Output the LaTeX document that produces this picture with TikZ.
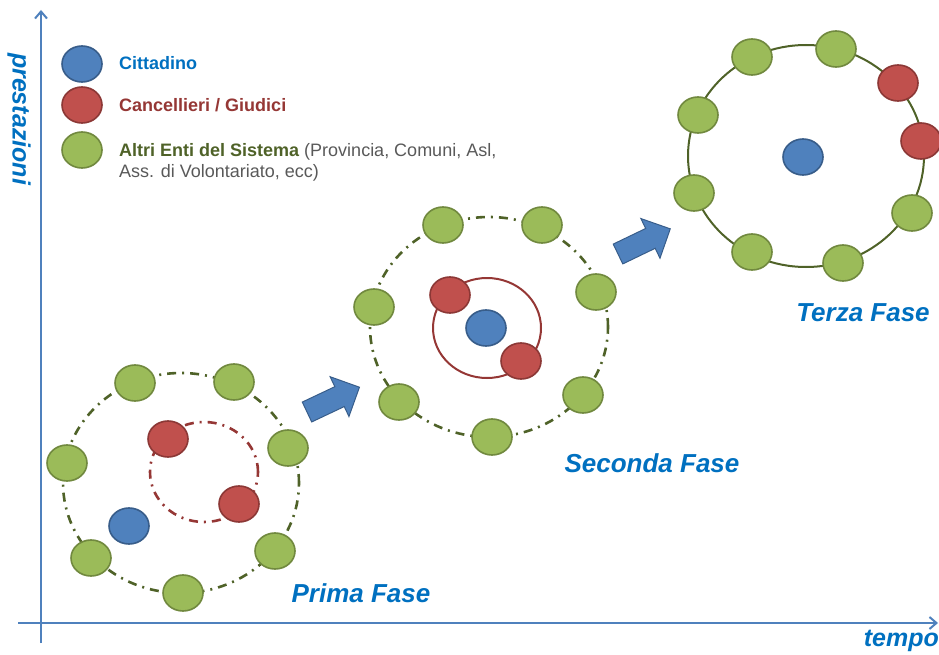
\documentclass[tikz,border=0pt]{standalone}
\usepackage{fontspec}
\setmainfont{Liberation Sans}
\usetikzlibrary{shapes.geometric,arrows.meta}

\definecolor{axisblue}{HTML}{4F81BD}
\definecolor{titleblue}{HTML}{0070C0}
\definecolor{citfill}{HTML}{4F81BD}
\definecolor{citline}{HTML}{385D8A}
\definecolor{cancfill}{HTML}{C0504D}
\definecolor{cancline}{HTML}{8C3836}
\definecolor{entfill}{HTML}{9BBB59}
\definecolor{entline}{HTML}{71893F}
\definecolor{ringgreen}{HTML}{4F6228}
\definecolor{ringred}{HTML}{953735}
\definecolor{textgray}{HTML}{595959}

\tikzset{
  actor/.style={ellipse, minimum width=40pt, minimum height=36pt, inner sep=0pt, line width=1.6pt},
  cittadino/.style={actor, fill=citfill, draw=citline},
  cancelliere/.style={actor, fill=cancfill, draw=cancline},
  ente/.style={actor, fill=entfill, draw=entline},
  ringdash/.style={line width=2.6pt, dash pattern=on 9pt off 6pt on 2pt off 6pt},
  ring/.style={ellipse, inner sep=0pt, fill=none},
  phase/.style={font=\fontsize{26}{30}\selectfont\bfseries\itshape, text=titleblue, inner sep=0pt},
  axislabel/.style={font=\fontsize{25}{29}\selectfont\bfseries\itshape, text=titleblue, inner sep=0pt},
  legendtext/.style={font=\fontsize{18}{21}\selectfont, anchor=west, inner sep=0pt, align=left},
  axis/.style={draw=axisblue, line width=2pt},
  blockarrow/.style={fill=axisblue, draw=citline, line width=1pt},
}

\begin{document}
\begin{tikzpicture}[x=1pt, y=-1pt]
\useasboundingbox (0,0) rectangle (939,655);

% axes
\coordinate (ytop) at (41,10);
\coordinate (ybot) at (41,643);
\coordinate (xleft) at (18,623);
\coordinate (xright) at (938,623);
\draw[axis, -{Straight Barb[length=7pt,width=12pt,line width=2pt]}] (ybot) -- (ytop);
\draw[axis, -{Straight Barb[length=7pt,width=12pt,line width=2pt]}] (xleft) -- (xright);
\node[axislabel, rotate=-90] (ylab) at (19,119) {prestazioni};
\node[axislabel, anchor=east] (xlab) at (939,641) {tempo};

% legend
\node[cittadino] (lcit) at (82,64) {};
\node[cancelliere] (lcanc) at (82,105) {};
\node[ente] (lent) at (82,150) {};
\node[legendtext, text=titleblue] (tcit) at (119,63) {\bfseries Cittadino};
\node[legendtext, text=ringred] (tcanc) at (119,105) {\bfseries Cancellieri / Giudici};
\node[legendtext, text=textgray, anchor=north west] (tent) at (119,143)
  {\textcolor{ringgreen}{\bfseries Altri Enti del Sistema} (Provincia, Comuni, Asl,\\Ass. di Volontariato, ecc)};

% first phase
\node[ring, draw=ringgreen, ringdash, minimum width=236pt, minimum height=220pt] (r1out) at (181,483) {};
\node[ring, draw=ringred, ringdash, minimum width=108pt, minimum height=100pt] (r1in) at (204,472) {};
\node[ente] (a1) at (135,383) {};
\node[ente] (a2) at (234,382) {};
\node[ente] (a3) at (288,448) {};
\node[ente] (a4) at (67,463) {};
\node[ente] (a5) at (91,558) {};
\node[ente] (a6) at (275,551) {};
\node[ente] (a7) at (183,593) {};
\node[cancelliere] (a8) at (168,439) {};
\node[cancelliere] (a9) at (239,504) {};
\node[cittadino] (a10) at (129,526) {};
\node[phase] (p1) at (361,593) {Prima Fase};

% second phase
\node[ring, draw=ringgreen, ringdash, minimum width=238pt, minimum height=220pt] (r2out) at (489,327) {};
\node[ring, draw=ringred, line width=2pt, minimum width=108pt, minimum height=100pt] (r2in) at (487,328) {};
\node[ente] (b1) at (443,225) {};
\node[ente] (b2) at (542,225) {};
\node[ente] (b3) at (596,292) {};
\node[ente] (b4) at (374,307) {};
\node[ente] (b5) at (399,402) {};
\node[ente] (b6) at (583,395) {};
\node[ente] (b7) at (492,437) {};
\node[cancelliere] (b8) at (450,295) {};
\node[cancelliere] (b9) at (521,361) {};
\node[cittadino] (b10) at (486,328) {};
\node[phase] (p2) at (652,463) {Seconda Fase};

% third phase
\node[ring, draw=ringgreen, line width=2pt, minimum width=236pt, minimum height=222pt] (r3) at (806,156) {};
\node[ente] (c1) at (752,57) {};
\node[ente] (c2) at (836,49) {};
\node[ente] (c3) at (698,115) {};
\node[ente] (c4) at (694,193) {};
\node[ente] (c5) at (752,252) {};
\node[ente] (c6) at (843,263) {};
\node[ente] (c7) at (912,213) {};
\node[cancelliere] (c8) at (898,83) {};
\node[cancelliere] (c9) at (921,141) {};
\node[cittadino] (c10) at (803,157) {};
\node[phase] (p3) at (863,313) {Terza Fase};

% block arrows between the phases
\begin{scope}[shift={(307,412)}, rotate=25.3]
  \draw[blockarrow] (0,-11) -- (36,-11) -- (36,-22) -- (58,0) -- (36,22) -- (36,11) -- (0,11) -- cycle;
\end{scope}
\begin{scope}[shift={(618,254)}, rotate=25.7]
  \draw[blockarrow] (0,-11) -- (36,-11) -- (36,-22) -- (58,0) -- (36,22) -- (36,11) -- (0,11) -- cycle;
\end{scope}
\end{tikzpicture}
\end{document}
